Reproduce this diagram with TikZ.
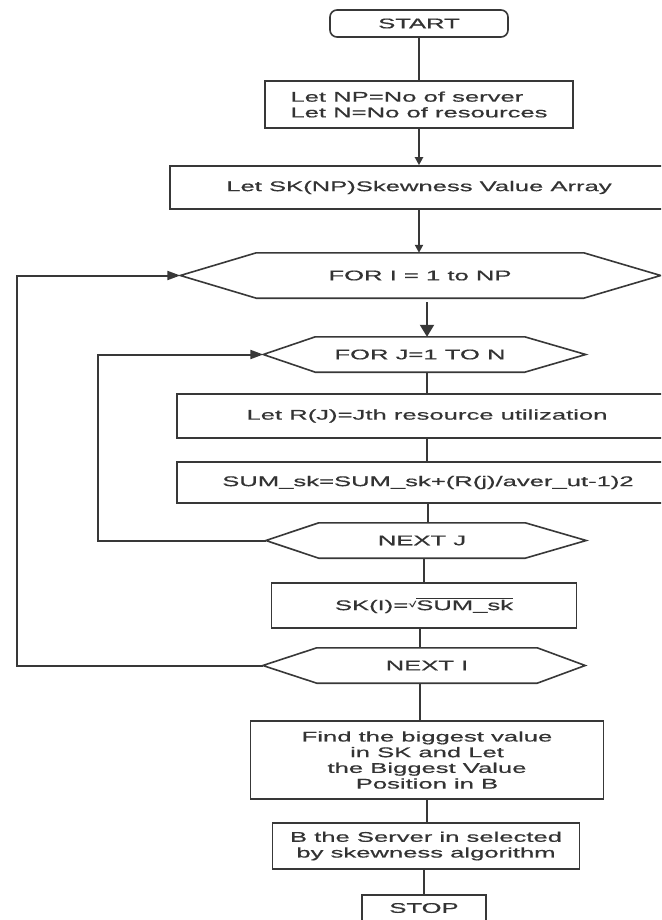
\documentclass[tikz,border=0pt]{standalone}
\usepackage{fontspec}
\setmainfont{Liberation Sans}[FakeStretch=1.83,FakeBold=0.6]
\usetikzlibrary{arrows.meta}
\newcommand\hexa[3]{%
  \draw[hexline] (#1.north west) -- (#1.north east) -- ([xshift=#3]#1.east) -- (#1.south east) -- (#1.south west) -- ([xshift=-#2]#1.west) -- cycle;
  \coordinate (#1-l) at ([xshift=-#2]#1.west);}
\begin{document}
\begin{tikzpicture}[x=1pt,y=-1pt,
  txt/.style={rectangle, inner sep=0pt, align=center, text=black!80, font=\fontsize{14}{15.7}\selectfont},
  box/.style={txt, draw=black!78, line width=1.6pt},
  core/.style={txt},
  hexline/.style={draw=black!78, line width=1.6pt, line join=miter},
  conn/.style={draw=black!78, line width=2pt},
  arr/.style={conn, -{Triangle[length=8pt,width=8pt]}},
  bigarr/.style={conn, -{Triangle[length=12pt,width=14pt]}},
  looparr/.style={conn, -{Triangle[length=13pt,width=9pt]}}
]
\useasboundingbox (0,0) rectangle (661,920);
\clip (0,0) rectangle (661,920);
\fill[white] (0,0) rectangle (661,920);

% nodes
\node[box, rounded corners=7pt, minimum width=178pt, minimum height=27pt] (start) at (419,23.5) {START};
\node[box, align=left, minimum width=308pt, minimum height=47pt] (box1) at (419,104.5) {Let NP=No of server\\Let N=No of resources};
\node[box, minimum width=498pt, minimum height=43pt] (box2) at (419,187.5) {Let SK(NP)Skewness Value Array};
\node[core, minimum width=327pt, minimum height=45pt] (fori) at (420,275.5) {FOR I = 1 to NP};
\hexa{fori}{76pt}{77pt}
\node[core, minimum width=209pt, minimum height=35pt] (forj) at (420,354.5) {FOR J=1 TO N};
\hexa{forj}{52pt}{61pt}
\node[box, minimum width=500pt, minimum height=44pt] (rj) at (427,416) {Let R(J)=Jth resource utilization};
\node[box, minimum width=502pt, minimum height=41pt] (sum) at (428,482.5) {SUM\_sk=SUM\_sk+(R(j)/aver\_ut-1)2};
\node[core, minimum width=206pt, minimum height=35pt] (nextj) at (422,540.5) {NEXT J};
\hexa{nextj}{53pt}{61pt}
\node[box, minimum width=305pt, minimum height=45pt] (ski) at (424,605.5) {SK(I)=\raisebox{3pt}{\fontsize{8}{8}\selectfont √}$\overline{\mbox{SUM\_sk}}$};
\node[core, minimum width=220pt, minimum height=35pt] (nexti) at (427,665.5) {NEXT I};
\hexa{nexti}{54pt}{48pt}
\node[box, minimum width=353pt, minimum height=78pt] (find) at (427,760) {Find the biggest value\\in SK and Let\\the Biggest Value\\Position in B};
\node[box, minimum width=307pt, minimum height=46pt] (bsel) at (426,846) {B the Server in selected\\by skewness algorithm};
\node[box, minimum width=124pt, minimum height=26pt] (stop) at (424,908) {STOP};

% loop anchors
\coordinate (oloop) at (17,0);
\coordinate (iloop) at (98,0);

% connectors
\draw[conn] (start.south) -- (start.south |- box1.north);
\draw[arr] (box1.south) -- (box1.south |- box2.north);
\draw[arr] (box2.south) -- (box2.south |- fori.north);
\draw[bigarr] ([xshift=7pt,yshift=-4pt]fori.south) -- ([xshift=7pt]forj.north);
\draw[conn] (rj.north) -- (rj.north |- forj.south);
\draw[conn] (rj.south) -- (rj.south |- sum.north);
\draw[conn] (sum.south) -- (sum.south |- nextj.north);
\draw[conn] (ski.north) -- (ski.north |- nextj.south);
\draw[conn] ([xshift=-4pt]ski.south) -- ([xshift=-4pt]ski.south |- nexti.north);
\draw[conn] ([xshift=-7pt]nexti.south) -- ([xshift=-7pt]nexti.south |- find.north);
\draw[conn] (find.south) -- (find.south |- bsel.north);
\draw[conn] (stop.north) -- (stop.north |- bsel.south);

% loops
\draw[looparr] (nexti-l) -- (nexti-l -| oloop) -- (fori-l -| oloop) -- (fori-l);
\draw[looparr] (nextj-l) -- (nextj-l -| iloop) -- (forj-l -| iloop) -- (forj-l);
\end{tikzpicture}
\end{document}
